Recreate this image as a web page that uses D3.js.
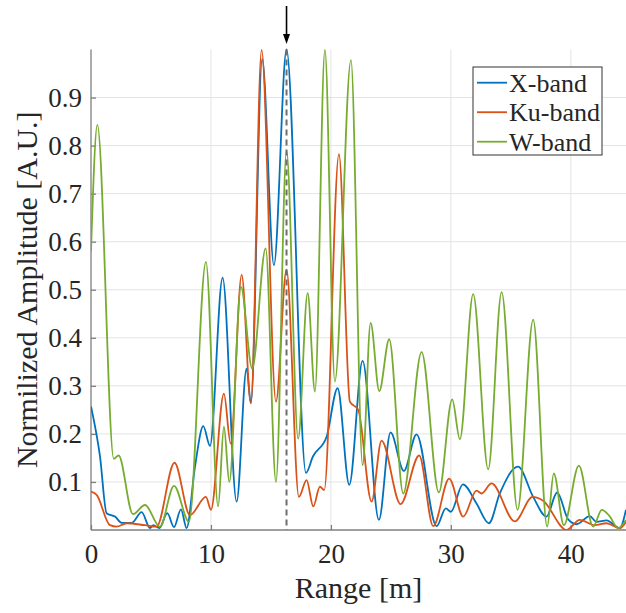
<!DOCTYPE html>
<html>
<head>
<meta charset="utf-8">
<script src="https://cdn.jsdelivr.net/npm/d3@7"></script>
<style>
body { margin: 0; background: #fff; }
text { font-family: "Liberation Serif", "Times New Roman", serif; fill: #262626; }
.grid line { stroke: #e3e3e3; stroke-width: 1; }
.axis path, .axis line { stroke: #7f7f7f; stroke-width: 1.3; }
.band { fill: none; stroke-width: 1.8; stroke-linejoin: round; }
</style>
</head>
<body>
<div id="chart"></div>
<script>
var w = 626;
var h = 613;

// range [m], normalized amplitude - peaks and dips
var xBand = [[0,0.257],[0.75,0.153],[1.3,0.035],[2.0,0.028],[2.55,0.015],[3.4,0.015],[4.22,0.037],[4.92,0.004],
	[5.2,0.01],[5.7,0.004],[6.36,0.035],[6.92,0.006],[7.5,0.043],[7.97,0.004],[8.67,0.132],[9.36,0.216],[9.92,0.175],
	[10.97,0.525],[12.14,0.059],[12.97,0.336],[13.33,0.264],[14.27,0.98],[15.25,0.551],[16.3,1.0],[17.92,0.119],
	[18.5,0.153],[19.64,0.194],[20.56,0.295],[21.53,0.094],[22.64,0.352],[24.0,0.021],[24.97,0.203],[26.08,0.123],
	[27.14,0.199],[28.81,0.008],[29.58,0.045],[30.0,0.038],[31.0,0.095],[32.14,0.055],[33.17,0.014],[34.08,0.076],
	[35.6,0.132],[36.86,0.069],[37.97,0.028],[38.86,0.078],[39.78,0.022],[40.47,0.012],[41.58,0.029],[42.14,0.017],
	[42.97,0.02],[44.08,0.004],[44.6,0.042]];

var kuBand = [[0,0.08],[0.47,0.073],[1.58,0.01],[2.14,0.007],[2.97,0.014],[4.5,0.01],[5.47,0.007],[6.96,0.14],
	[8.25,0.031],[9.58,0.069],[10.0,0.042],[11.08,0.284],[11.64,0.18],[12.56,0.531],[13.33,0.264],[14.22,0.999],
	[15.42,0.267],[16.3,0.542],[17.33,0.069],[17.97,0.104],[18.53,0.049],[19.08,0.09],[19.44,0.083],[20.67,0.782],
	[21.58,0.267],[22.28,0.25],[23.39,0.059],[24.22,0.186],[25.81,0.054],[27.36,0.155],[28.53,0.008],[29.86,0.107],
	[31.03,0.028],[32.14,0.082],[32.56,0.076],[33.39,0.097],[35.33,0.018],[36.81,0.069],[37.69,0.061],[39.64,0.0],
	[40.75,0.021],[42.0,0.01],[42.97,0.014],[44.08,0.004],[44.6,0.017]];

var wBand = [[0,0.58],[0.53,0.843],[1.9,0.148],[2.3,0.155],[3.5,0.033],[4.5,0.052],[5.75,0.007],[6.92,0.092],
	[8.17,0.017],[9.58,0.558],[10.6,0.049],[11.08,0.215],[11.53,0.1],[12.5,0.506],[13.44,0.336],[14.56,0.586],
	[15.42,0.1],[16.3,0.789],[17.27,0.19],[18.06,0.493],[18.67,0.288],[19.5,0.999],[20.33,0.309],[21.67,0.978],
	[22.64,0.135],[23.31,0.431],[24.03,0.289],[24.86,0.397],[26.03,0.076],[27.56,0.37],[29.0,0.078],[30.11,0.272],
	[30.75,0.189],[31.86,0.491],[33.11,0.126],[34.23,0.495],[35.56,0.042],[36.86,0.438],[38.03,0.007],[38.58,0.118],
	[39.42,0.01],[40.67,0.134],[41.86,0.007],[42.58,0.042],[43.2,0.03],[43.94,0.004],[44.6,0.021]];

var bandNames = ["X-band", "Ku-band", "W-band"];
var bandColors = ["#0072bd", "#d95319", "#77ac30"];
var xTicks = [0, 10, 20, 30, 40];
var yTicks = [0.1, 0.2, 0.3, 0.4, 0.5, 0.6, 0.7, 0.8, 0.9];
var targetRange = 16.3;

var plotLeft = 91, plotRight = 626, plotTop = 49.5, plotBottom = 530;

var x = d3.scaleLinear().domain([0, 44.6]).range([plotLeft, plotRight]);
var y = d3.scaleLinear().domain([0, 1]).range([plotBottom, plotTop]);

var svg = d3.select("#chart").append("svg")
	.attr("width", w)
	.attr("height", h);

svg.append("defs").append("clipPath")
	.attr("id", "plotClip")
	.append("rect")
	.attr("x", plotLeft)
	.attr("y", plotTop - 3)
	.attr("width", plotRight - plotLeft)
	.attr("height", plotBottom - plotTop + 3);

//grid
var grid = svg.append("g").attr("class", "grid");
grid.selectAll("line.gx")
	.data(xTicks.filter(function(d) { return d > 0; }))
	.enter()
	.append("line")
	.attr("x1", function(d) { return x(d); })
	.attr("x2", function(d) { return x(d); })
	.attr("y1", plotTop)
	.attr("y2", plotBottom);
grid.selectAll("line.gy")
	.data(yTicks)
	.enter()
	.append("line")
	.attr("x1", plotLeft)
	.attr("x2", plotRight)
	.attr("y1", function(d) { return y(d); })
	.attr("y2", function(d) { return y(d); });

//axes, ticks point inward
var xAxis = svg.append("g")
	.attr("class", "axis")
	.attr("transform", "translate(0," + plotBottom + ")")
	.call(d3.axisBottom(x).tickValues(xTicks).tickSize(-5).tickSizeOuter(0).tickPadding(14));
xAxis.select(".domain").attr("d", "M" + plotLeft + ",0H" + plotRight);
xAxis.selectAll("text")
	.attr("font-size", 27)
	.attr("font-family", null)
	.attr("fill", "#262626");

var yAxis = svg.append("g")
	.attr("class", "axis")
	.attr("transform", "translate(" + plotLeft + ",0)")
	.call(d3.axisLeft(y).tickValues(yTicks).tickSize(-5).tickSizeOuter(0).tickPadding(9));
yAxis.select(".domain").attr("d", "M0," + plotTop + "V" + plotBottom);
yAxis.selectAll("text")
	.attr("font-size", 27)
	.attr("font-family", null)
	.attr("fill", "#262626");

//curves
var line = d3.line()
	.x(function(d) { return x(d[0]); })
	.y(function(d) { return y(d[1]); })
	.curve(d3.curveMonotoneX);

svg.append("g")
	.attr("clip-path", "url(#plotClip)")
	.selectAll("path")
	.data([xBand, kuBand, wBand])
	.enter()
	.append("path")
	.attr("class", "band")
	.attr("stroke", function(d, i) { return bandColors[i]; })
	.attr("d", line);

//target marker
svg.append("line")
	.attr("x1", x(targetRange))
	.attr("x2", x(targetRange))
	.attr("y1", plotTop)
	.attr("y2", plotBottom)
	.attr("stroke", "#6e6e6e")
	.attr("stroke-width", 2)
	.attr("stroke-dasharray", "6,4");

svg.append("line")
	.attr("x1", x(targetRange))
	.attr("x2", x(targetRange))
	.attr("y1", 6)
	.attr("y2", 36)
	.attr("stroke", "#000")
	.attr("stroke-width", 1.6);
svg.append("path")
	.attr("d", "M" + (x(targetRange) - 3.5) + ",34L" + (x(targetRange) + 3.5) + ",34L" + x(targetRange) + ",44Z")
	.attr("fill", "#000");

//labels
svg.append("text")
	.attr("x", (plotLeft + plotRight) / 2)
	.attr("y", 598)
	.attr("text-anchor", "middle")
	.attr("font-size", 30)
	.text("Range [m]");

svg.append("text")
	.attr("transform", "translate(37," + ((plotTop + plotBottom) / 2) + ") rotate(-90)")
	.attr("text-anchor", "middle")
	.attr("font-size", 30)
	.text("Normilized Amplitude [A.U.]");

//legend
var legend = svg.append("g").attr("transform", "translate(473,67)");
legend.append("rect")
	.attr("width", 129)
	.attr("height", 88)
	.attr("fill", "#fff")
	.attr("stroke", "#333")
	.attr("stroke-width", 1);
var rows = legend.selectAll("g.row")
	.data(bandNames)
	.enter()
	.append("g")
	.attr("transform", function(d, i) { return "translate(0," + (15.7 + i * 29.5) + ")"; });
rows.append("line")
	.attr("x1", 4)
	.attr("x2", 34)
	.attr("stroke", function(d, i) { return bandColors[i]; })
	.attr("stroke-width", 1.8);
rows.append("text")
	.attr("x", 36)
	.attr("dy", "0.35em")
	.attr("font-size", 26)
	.attr("fill", "#000")
	.text(function(d) { return d; });
</script>
</body>
</html>
